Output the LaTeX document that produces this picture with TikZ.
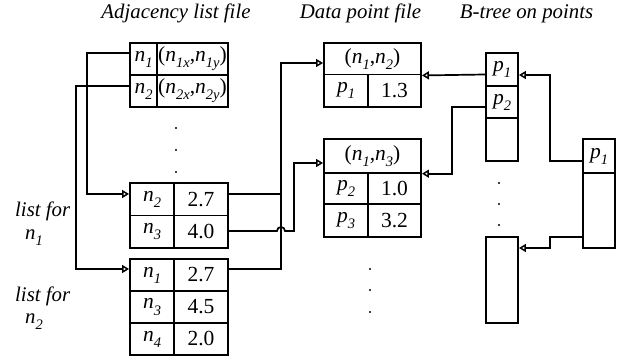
\documentclass[tikz,border=0pt]{standalone}
\usepackage{fontspec}
\setmainfont{Liberation Serif}
\usetikzlibrary{arrows.meta,calc}
\newcommand{\sbx}[1]{\raisebox{-0.28em}{\fontsize{14.5}{14.5}\selectfont\itshape #1}}
\newcommand{\nn}[1]{\textit{n}\sbx{#1}}
\newcommand{\pp}[1]{\textit{p}\sbx{#1}}
\begin{document}
\begin{tikzpicture}[x=1pt,y=-1pt,
  cell/.style={draw, line width=1.9pt, inner sep=0pt, font=\fontsize{21.5}{24}\selectfont},
  conn/.style={line width=1.7pt},
  arr/.style={conn, -{Triangle[open,length=7pt,width=8pt,line width=1.5pt]}},
  hdr/.style={font=\fontsize{20.8}{24}\selectfont\itshape, inner sep=0pt, anchor=base},
  lbl/.style={font=\fontsize{20.8}{24}\selectfont\itshape, inner sep=0pt, anchor=base west}]
\useasboundingbox (0,0) rectangle (632,363);
% headers
\node[hdr] (h1) at (176,19) {Adjacency list file};
\node[hdr] (h2) at (360.5,19) {Data point file};
\node[hdr] (h3) at (526.5,19) {B-tree on points};
% side labels
\node[lbl] (l1) at (15,216.5) {list for};
\node[lbl] (l1n) at (25,240) {\nn{1}};
\node[lbl] (l2) at (15,301.5) {list for};
\node[lbl] (l2n) at (25,323.5) {\nn{2}};
% table A
\node[cell, minimum width=27pt, minimum height=32pt] (a11) at (143.5,59) {\nn{1}};
\node[cell, minimum width=71pt, minimum height=32pt] (a12) at (192.5,59) {(\nn{1x},\nn{1y})};
\node[cell, minimum width=27pt, minimum height=32pt] (a21) at (143.5,91) {\nn{2}};
\node[cell, minimum width=71pt, minimum height=32pt] (a22) at (192.5,91) {(\nn{2x},\nn{2y})};
% list 1
\node[cell, minimum width=44pt, minimum height=32.5pt] (b11) at (152,199.25) {\nn{2}};
\node[cell, minimum width=54pt, minimum height=32.5pt] (b12) at (201,199.25) {2.7};
\node[cell, minimum width=44pt, minimum height=32.5pt] (b21) at (152,231.75) {\nn{3}};
\node[cell, minimum width=54pt, minimum height=32.5pt] (b22) at (201,231.75) {4.0};
% list 2
\node[cell, minimum width=44pt, minimum height=32pt] (c11) at (152,275) {\nn{1}};
\node[cell, minimum width=54pt, minimum height=32pt] (c12) at (201,275) {2.7};
\node[cell, minimum width=44pt, minimum height=32pt] (c21) at (152,307) {\nn{3}};
\node[cell, minimum width=54pt, minimum height=32pt] (c22) at (201,307) {4.5};
\node[cell, minimum width=44pt, minimum height=32pt] (c31) at (152,339) {\nn{4}};
\node[cell, minimum width=54pt, minimum height=32pt] (c32) at (201,339) {2.0};
% data point 1
\node[cell, minimum width=97pt, minimum height=31.5pt] (d1t) at (372.5,58.75) {(\nn{1},\nn{2})};
\node[cell, minimum width=44pt, minimum height=32.5pt] (d1a) at (346,90.75) {\pp{1}};
\node[cell, minimum width=53pt, minimum height=32.5pt] (d1b) at (394.5,90.75) {1.3};
% data point 2
\node[cell, minimum width=97pt, minimum height=33.5pt] (d2t) at (372.5,156) {(\nn{1},\nn{3})};
\node[cell, minimum width=44pt, minimum height=31.6pt] (d2a) at (346,188.5) {\pp{2}};
\node[cell, minimum width=53pt, minimum height=31.6pt] (d2b) at (394.5,188.5) {1.0};
\node[cell, minimum width=44pt, minimum height=32.7pt] (d2c) at (346,220.6) {\pp{3}};
\node[cell, minimum width=53pt, minimum height=32.7pt] (d2d) at (394.5,220.6) {3.2};
% B-tree leaves
\node[cell, minimum width=32pt, minimum height=33pt] (e1a) at (502,69.5) {\pp{1}};
\node[cell, minimum width=32pt, minimum height=32pt] (e1b) at (502,102) {\pp{2}};
\node[cell, minimum width=32pt, minimum height=43pt] (e1c) at (502,139.5) {};
\node[cell, minimum width=32pt, minimum height=86pt] (e2) at (502,280) {};
% root
\node[cell, minimum width=32pt, minimum height=34pt] (r1) at (599,156) {\pp{1}};
\node[cell, minimum width=32pt, minimum height=75pt] (r2) at (599,210.5) {};
% dots
\foreach \y in {128,150,172} \fill (176,\y) circle[radius=1.15pt];
\foreach \y in {269,290,312} \fill (370,\y) circle[radius=1.15pt];
\foreach \y in {183,204,225} \fill (499,\y) circle[radius=1.15pt];
% connectors
\coordinate (bus) at (281,0);
\coordinate (bus2) at (294,0);
\draw[arr] ([yshift=6pt]a11.west) -- ++(-42,0) |- ([yshift=5.25pt]b11.west);
\draw[arr] ([yshift=5pt]a21.west) -- ++(-53,0) |- ([yshift=6pt]c11.west);
\draw[conn] ([yshift=5.25pt]b12.east) -- ([yshift=5.25pt]b12.east -| bus);
\draw[arr] ([yshift=6pt]c12.east) -| ([yshift=-4.25pt]d1t.west -| bus) -- ([yshift=-4.25pt]d1t.west);
\draw[arr] ([yshift=0.75pt]b22.east) coordinate (s4) -- ($(s4 -| bus)+(-4,0)$)
  arc[start angle=180, end angle=0, radius=4pt] -| ([yshift=-7pt]d2t.west -| bus2) -- ([yshift=-7pt]d2t.west);
\draw[arr] ([yshift=-5pt]e1a.west) -- (d1t.south east);
\draw[arr] ([yshift=-5pt]e1b.west) -- ++(-33,0) |- (d2t.south east);
\draw[arr] ([yshift=-5pt]r1.west) -- ++(-32,0) |- ([yshift=-5.5pt]e1a.east);
\draw[arr] ([yshift=-26.5pt]r2.west) -- ++(-32,0) |- ([yshift=32pt]e2.east);
\end{tikzpicture}
\end{document}
